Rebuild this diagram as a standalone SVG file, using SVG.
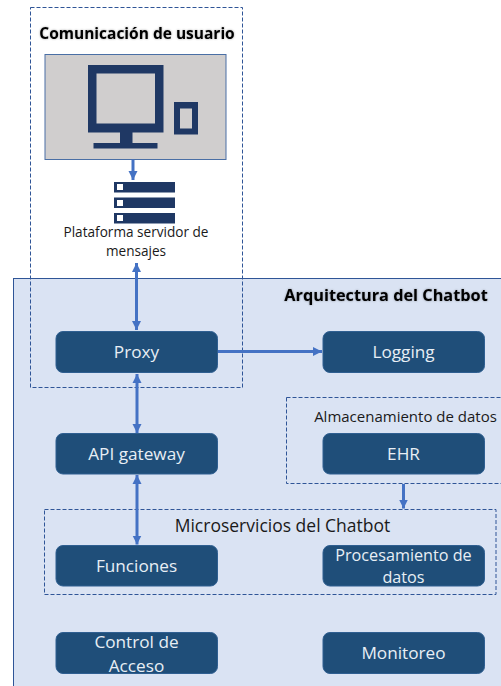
<svg xmlns="http://www.w3.org/2000/svg" width="501" height="686" viewBox="0 0 501 686">
<style>
text{font-family:"Open Sans","Noto Sans","Liberation Sans",sans-serif;text-anchor:middle}
.n{fill:#1f4e79;stroke:#2f5f91;stroke-width:1}
.nt{fill:#e8eef5;font-size:17.2px}
.ns{fill:#e8eef5;font-size:16.2px}
.d{fill:none;stroke:#2f5597;stroke-width:1;stroke-dasharray:4 2}
.l{fill:#1a1a1a;font-size:13.6px}
.h{fill:#000;font-weight:700;filter:drop-shadow(0 0 1px rgba(0,0,0,.35))}
.i{fill:#1f3864}
.c{fill:none;stroke:#4472c4;stroke-width:3}
</style>
<defs>
<marker id="a" markerUnits="userSpaceOnUse" markerWidth="10" markerHeight="10" refX="9" refY="5" orient="auto-start-reverse"><path d="M0 0.500L9 5L0 9.500z" fill="#4472c4"/></marker>
</defs>
<rect id="panel" x="13.5" y="278.5" width="490" height="410" fill="#dae3f3" stroke="#2f5597" stroke-width="1"/>
<rect id="user-box" class="d" x="30.5" y="7.5" width="212" height="380"/>
<text class="h" x="137" y="38.500" font-size="15.500">Comunicación de usuario</text>
<g id="devices">
<rect x="45" y="54.500" width="181" height="105" fill="#d0cece" stroke="#4a6fa5" stroke-width="1"/>
<path class="i" fill-rule="evenodd" d="M88 65H163.500V132.500H132.500V143H157.500V148.500H93.500V143H120V132.500H88ZM96.500 73.500V123.500H155V73.500Z"/>
<path class="i" fill-rule="evenodd" d="M174 102H198V134.500H174ZM180 108.500V128.500H192V108.500Z"/>
</g>
<g id="server">
<rect class="i" x="114" y="182" width="61" height="10.500"/><rect x="117" y="184" width="6" height="6" fill="#fff"/>
<rect class="i" x="114" y="197.500" width="61" height="10.500"/><rect x="117" y="200" width="6" height="6" fill="#fff"/>
<rect class="i" x="114" y="213" width="61" height="10.500"/><rect x="117" y="215" width="6" height="6" fill="#fff"/>
<text class="l" x="136" y="237">Plataforma servidor de</text>
<text class="l" x="136" y="256">mensajes</text>
</g>
<rect id="storage-box" class="d" x="286.500" y="397.500" width="216" height="86"/>
<text class="l" x="405.500" y="422" style="font-size:15px">Almacenamiento de datos</text>
<rect id="micro-box" class="d" x="44.500" y="509.500" width="451.500" height="85"/>
<text x="282.500" y="532" font-size="17.500" fill="#1a1a1a">Microservicios del Chatbot</text>
<text class="h" x="386" y="301" font-size="16.300">Arquitectura del Chatbot</text>
<g id="connectors">
<path class="c" d="M133 159.500V180" marker-end="url(#a)"/>
<path class="c" d="M136.500 263V330" marker-start="url(#a)" marker-end="url(#a)"/>
<path class="c" d="M218 351.500H322" marker-end="url(#a)"/>
<path class="c" d="M137 374V433" marker-start="url(#a)" marker-end="url(#a)"/>
<path class="c" d="M137 475V544.500" marker-start="url(#a)" marker-end="url(#a)"/>
<path class="c" d="M403.500 484V508.500" marker-end="url(#a)"/>
</g>
<g id="proxy"><rect class="n" x="56" y="331.500" width="161.500" height="41" rx="7"/><text class="nt" x="136.500" y="358">Proxy</text></g>
<g id="logging"><rect class="n" x="323" y="331.500" width="161.500" height="41" rx="7"/><text class="nt" x="403.500" y="358">Logging</text></g>
<g id="api"><rect class="n" x="56" y="433.500" width="161.500" height="40.500" rx="7"/><text class="nt" x="136.500" y="460">API gateway</text></g>
<g id="ehr"><rect class="n" x="323" y="433.500" width="161.500" height="40.500" rx="7"/><text class="nt" x="403.500" y="460">EHR</text></g>
<g id="funciones"><rect class="n" x="56" y="545.500" width="161.500" height="40.500" rx="7"/><text class="nt" x="136.500" y="572">Funciones</text></g>
<g id="procesamiento"><rect class="n" x="323" y="545.500" width="161.500" height="40.500" rx="7"/><text class="ns" x="403.500" y="561">Procesamiento de</text><text class="ns" x="403.500" y="583">datos</text></g>
<g id="control"><rect class="n" x="56" y="632.500" width="161.500" height="41" rx="7"/><text class="nt" x="136.500" y="648">Control de</text><text class="nt" x="136.500" y="672">Acceso</text></g>
<g id="monitoreo"><rect class="n" x="323" y="632.500" width="161.500" height="41" rx="7"/><text class="nt" x="403.500" y="659">Monitoreo</text></g>
</svg>
